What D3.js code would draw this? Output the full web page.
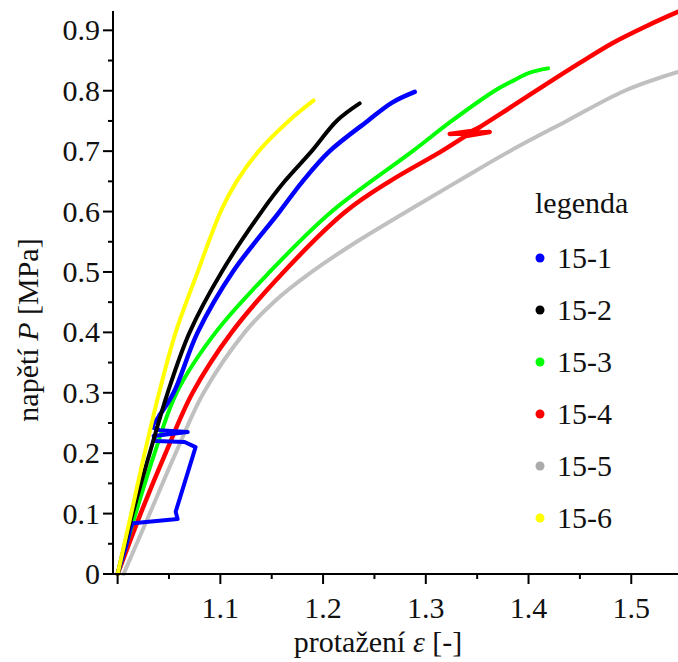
<!DOCTYPE html>
<html>
<head>
<meta charset="utf-8">
<script src="https://cdn.jsdelivr.net/npm/d3@7"></script>
<style>
  body { margin: 0; background: #fff; }
  svg { display: block; }
  .axis line { stroke: #000; stroke-width: 2; }
</style>
</head>
<body>
<svg id="container"></svg>
<script>
const FONT = "'Liberation Serif', 'Times New Roman', Times, Tinos, 'Nimbus Roman', 'Noto Serif', 'DejaVu Serif', FreeSerif, serif";

// series names and colours
const names = ['15-1', '15-2', '15-3', '15-4', '15-5', '15-6'];
const colors = ['#0000ff', '#000000', '#00ff00', '#ff0000', '#c0c0c0', '#ffff00'];

// strain eps [-] and stress P [MPa]
// 15-1: unloading loop at the start, then the main branch
const eps1Loop = [1.0, 1.0078, 1.0127, 1.0149, 1.0584, 1.0565, 1.0759, 1.0652, 1.037, 1.0351, 1.0682, 1.0409, 1.0331, 1.0409];
const p1Loop = [0, 0.043, 0.076, 0.084, 0.091, 0.103, 0.21, 0.2185, 0.22, 0.2285, 0.235, 0.238, 0.243, 0.263];
const eps1 = [1.0409, 1.0545, 1.0779, 1.112, 1.1577, 1.1801, 1.2064, 1.2434, 1.2668, 1.2892];
const p1 = [0.263, 0.3, 0.4, 0.5, 0.6, 0.65, 0.7, 0.75, 0.78, 0.798];

const eps2 = [1.0, 1.0146, 1.0312, 1.0487, 1.0701, 1.1013, 1.1402, 1.1626, 1.1889, 1.2132, 1.2356];
const p2 = [0, 0.1, 0.2, 0.3, 0.4, 0.5, 0.6, 0.65, 0.7, 0.75, 0.779];

const eps3 = [1.0, 1.0175, 1.036, 1.0574, 1.0954, 1.148, 1.2084, 1.2872, 1.3252, 1.3671, 1.3866, 1.4012, 1.419];
const p3 = [0, 0.1, 0.2, 0.3, 0.4, 0.5, 0.6, 0.7, 0.75, 0.8, 0.818, 0.83, 0.837];

// 15-4: main branch, the small jump near 1.34 drawn separately
const eps4 = [1.0, 1.0224, 1.0467, 1.073, 1.111, 1.1616, 1.222, 1.2648, 1.3155, 1.3389, 1.3525, 1.3846, 1.4177, 1.4499, 1.482, 1.5151, 1.5453];
const p4 = [0, 0.1, 0.2, 0.3, 0.4, 0.5, 0.6, 0.65, 0.7, 0.7252, 0.7397, 0.7748, 0.8113, 0.846, 0.8791, 0.9073, 0.9305];
const eps4Jump = [1.3389, 1.3622, 1.3233, 1.3447, 1.3525];
const p4Jump = [0.7252, 0.7318, 0.7285, 0.7334, 0.7397];

const eps5 = [1.0058, 1.0312, 1.0565, 1.0837, 1.1237, 1.1519, 1.1889, 1.2327, 1.2814, 1.3311, 1.3817, 1.4372, 1.4937, 1.5453];
const p5 = [0, 0.1, 0.2, 0.3, 0.4, 0.45, 0.5, 0.55, 0.6, 0.65, 0.7, 0.75, 0.8, 0.831];

const eps6 = [1.0, 1.0132, 1.0263, 1.0404, 1.0565, 1.0779, 1.1003, 1.1159, 1.1373, 1.1665, 1.1908];
const p6 = [0, 0.1, 0.2, 0.3, 0.4, 0.5, 0.6, 0.65, 0.7, 0.75, 0.784];

const xTicks = [1.1, 1.2, 1.3, 1.4, 1.5];
const yTicks = [0, 0.1, 0.2, 0.3, 0.4, 0.5, 0.6, 0.7, 0.8, 0.9];

const width = 678, height = 662;
const svg = d3.select('#container').attr('width', width).attr('height', height)
  .attr('font-family', FONT).style('font-family', FONT);

const x = d3.scaleLinear().domain([0.9955, 1.5455]).range([113, 678]);
const y = d3.scaleLinear().domain([0, 0.932]).range([574, 11]);

const zip = (a, b) => a.map((e, j) => [e, b[j]]);

// each entry: colour index, points, smooth or not, stroke width
const paths = [
  { c: 4, pts: zip(eps5, p5), smooth: true, w: 4 },
  { c: 3, pts: zip(eps4, p4), smooth: true, w: 4.5 },
  { c: 3, pts: zip(eps4Jump, p4Jump), smooth: false, w: 4.5 },
  { c: 2, pts: zip(eps3, p3), smooth: true, w: 4 },
  { c: 0, pts: zip(eps1Loop, p1Loop), smooth: false, w: 4 },
  { c: 0, pts: zip(eps1, p1), smooth: true, w: 4.5 },
  { c: 1, pts: zip(eps2, p2), smooth: true, w: 4 },
  { c: 5, pts: zip(eps6, p6), smooth: true, w: 4 },
];

const smoothLine = d3.line().x((d) => x(d[0])).y((d) => y(d[1])).curve(d3.curveCatmullRom.alpha(0.5));
const straightLine = d3.line().x((d) => x(d[0])).y((d) => y(d[1]));

svg.append('g')
  .selectAll('path')
  .data(paths)
  .enter()
  .append('path')
  .attr('d', (d) => (d.smooth ? smoothLine(d.pts) : straightLine(d.pts)))
  .attr('fill', 'none')
  .attr('stroke', (d) => colors[d.c])
  .attr('stroke-width', (d) => d.w)
  .attr('stroke-linejoin', 'round')
  .attr('stroke-linecap', 'round');

// x axis
const minorX = d3.range(1.0, 1.55, 0.05);
const gx = svg.append('g').attr('class', 'axis').attr('transform', 'translate(0,574)');
gx.append('line').attr('x1', 113).attr('x2', 678).attr('y1', 0).attr('y2', 0);
gx.selectAll('.tk').data(minorX).enter().append('line')
  .attr('x1', (d) => x(d)).attr('x2', (d) => x(d))
  .attr('y1', 0).attr('y2', (d, i) => (i % 2 === 0 ? 10 : 5));
gx.selectAll('text').data(xTicks).enter().append('text')
  .attr('x', (d) => x(d)).attr('y', 44)
  .attr('text-anchor', 'middle')
  .attr('font-size', 30).attr('fill', '#111')
  .text((d) => d3.format('.1f')(d));

// y axis
const minorY = d3.range(0, 0.93, 0.05);
const gy = svg.append('g').attr('class', 'axis').attr('transform', 'translate(113,0)');
gy.append('line').attr('x1', 0).attr('x2', 0).attr('y1', 574).attr('y2', 11);
gy.selectAll('.tk').data(minorY).enter().append('line')
  .attr('x1', (d, i) => (i % 2 === 0 ? -10 : -5)).attr('x2', 0)
  .attr('y1', (d) => y(d)).attr('y2', (d) => y(d));
gy.selectAll('text').data(yTicks).enter().append('text')
  .attr('x', -13).attr('y', (d) => y(d) + 10)
  .attr('text-anchor', 'end')
  .attr('font-size', 30).attr('fill', '#111')
  .text((d) => (d === 0 ? '0' : d3.format('.1f')(d)));

// axis titles
const xt = svg.append('text').attr('x', 378).attr('y', 652)
  .attr('text-anchor', 'middle').attr('font-size', 30).attr('fill', '#111');
xt.append('tspan').text('protažení ');
xt.append('tspan').attr('font-style', 'italic').text('ε');
xt.append('tspan').text(' [-]');

const yt = svg.append('text').attr('transform', 'translate(38,330) rotate(-90)')
  .attr('text-anchor', 'middle').attr('font-size', 30).attr('fill', '#111');
yt.append('tspan').text('napětí ');
yt.append('tspan').attr('font-style', 'italic').text('P');
yt.append('tspan').text(' [MPa]');

// legend
const lg = svg.append('g');
lg.append('text').attr('x', 535).attr('y', 213).attr('font-size', 30).attr('fill', '#111').text('legenda');
const items = lg.selectAll('.item').data(names).enter().append('g')
  .attr('transform', (d, i) => 'translate(540,' + (258 + i * 52) + ')');
items.append('circle').attr('r', 4.5).attr('fill', (d, i) => (i === 4 ? '#aaaaaa' : colors[i]));
items.append('text').attr('x', 17).attr('y', 10).attr('font-size', 30).attr('fill', '#111').text((d) => d);
</script>
</body>
</html>
